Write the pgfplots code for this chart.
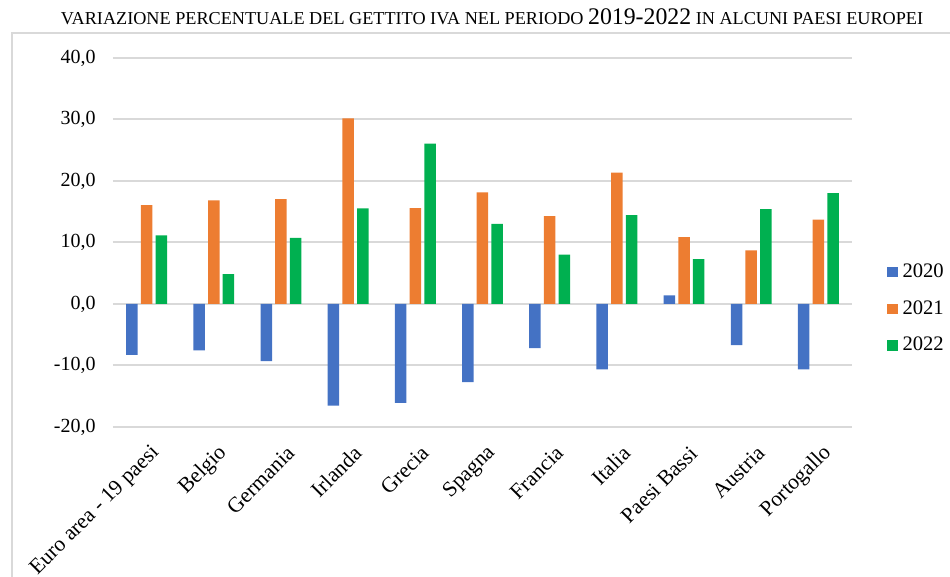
\documentclass[border=0pt]{standalone}
\usepackage{fontspec}
\setmainfont{Liberation Serif}
\usepackage{pgfplots}
\pgfplotsset{compat=1.18}
\definecolor{c2020}{HTML}{4472C4}
\definecolor{c2021}{HTML}{ED7D31}
\definecolor{c2022}{HTML}{00B050}
\definecolor{gridgray}{HTML}{D9D9D9}

% 1 px of the reference = 0.5pt
\begin{document}
\begin{tikzpicture}
\path[use as bounding box] (0,0) rectangle (475pt,288.5pt);
% outer frame of the chart area
\draw[gridgray, line width=0.8pt] (6pt,-5pt) -- (6pt,272pt) -- (480pt,272pt);
\node[anchor=base] at (246pt,276pt) {%
  {\fontsize{9.1}{11}\selectfont VARIAZIONE PERCENTUALE DEL GETTITO IVA NEL PERIODO }%
  {\fontsize{11.9}{13}\selectfont 2019-2022}%
  {\fontsize{9.1}{11}\selectfont\ IN ALCUNI PAESI EUROPEI}};

\begin{axis}[
  at={(56.5pt,75pt)}, anchor=south west,
  scale only axis,
  width=369.5pt, height=184.5pt,
  ybar=1.6pt, bar width=5.75pt,
  xmin=-0.5, xmax=10.5,
  ymin=-20, ymax=40,
  ytick={-20,-10,...,40},
  xtick={0,...,10},
  xticklabels={Euro area - 19 paesi, Belgio, Germania, Irlanda, Grecia, Spagna,
    Francia, Italia, Paesi Bassi, Austria, Portogallo},
  axis line style={draw=none},
  major tick length=0pt,
  ymajorgrids,
  grid style={gridgray, line width=1pt},
  font=\fontsize{10}{12}\selectfont,
  /pgf/number format/.cd, fixed, fixed zerofill, precision=1, use comma,
    assume math mode=true,
  /pgfplots/.cd,
  yticklabel style={inner sep=0pt, xshift=-8.5pt},
  xticklabel style={rotate=45, anchor=east, inner sep=0pt, yshift=-11.5pt, xshift=-4.5pt,
    font=\fontsize{10.8}{12}\selectfont},
  legend style={at={(1.047,0.32)}, anchor=west, draw=none, fill=none,
    font=\fontsize{10.3}{12}\selectfont, inner sep=0pt,
    row sep=6pt, nodes={inner xsep=2.5pt}},
  legend cell align=left,
  legend image code/.code={\fill[#1] (0pt,-2.6pt) rectangle (5.2pt,2.6pt);},
]
\addplot[fill=c2020, draw=none] coordinates {
  (0,-8.26) (1,-7.55) (2,-9.29) (3,-16.52) (4,-16.09) (5,-12.72)
  (6,-7.17) (7,-10.65) (8,1.41) (9,-6.68) (10,-10.65)};
\addlegendentry{2020}
\addplot[fill=c2021, draw=none] coordinates {
  (0,16.09) (1,16.85) (2,17.07) (3,30.2) (4,15.6) (5,18.15)
  (6,14.29) (7,21.36) (8,10.87) (9,8.70) (10,13.70)};
\addlegendentry{2021}
\addplot[fill=c2022, draw=none] coordinates {
  (0,11.14) (1,4.84) (2,10.76) (3,15.54) (4,26.09) (5,13.04)
  (6,8.04) (7,14.46) (8,7.28) (9,15.43) (10,18.04)};
\addlegendentry{2022}
\end{axis}
\end{tikzpicture}
\end{document}
